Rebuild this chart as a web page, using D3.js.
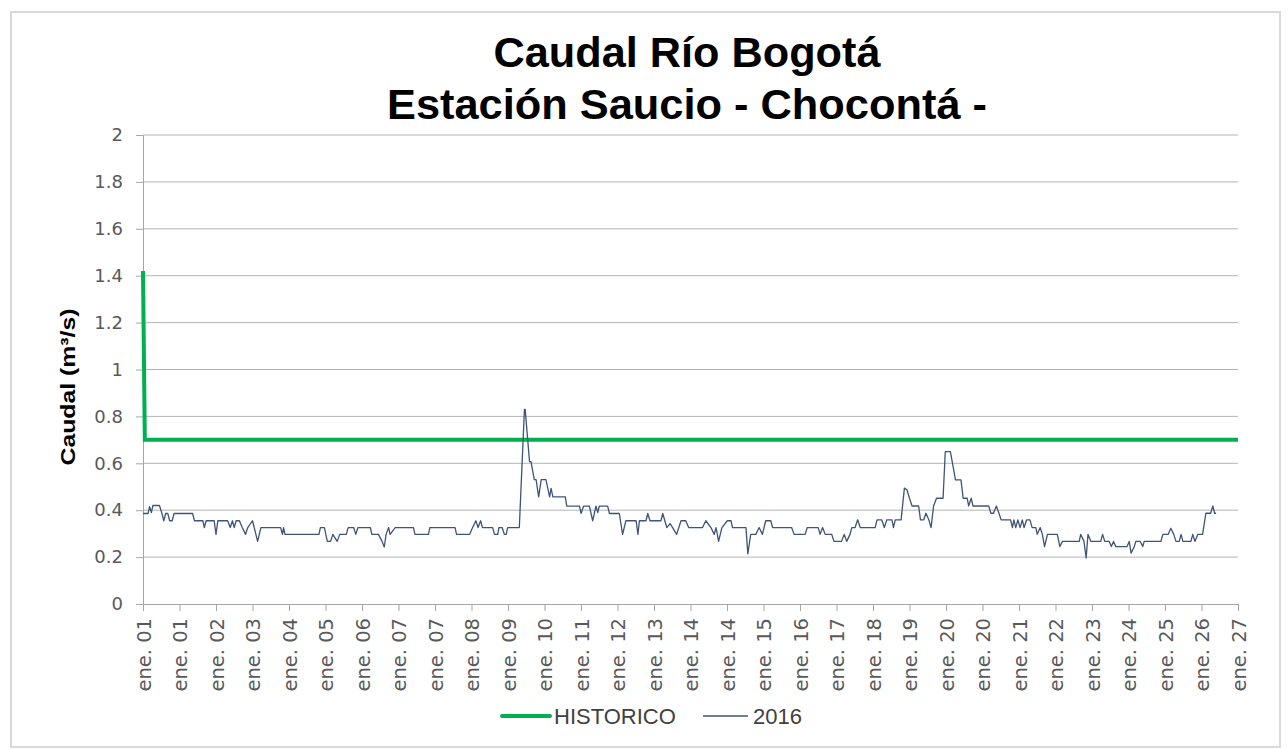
<!DOCTYPE html>
<html>
<head>
<meta charset="utf-8">
<script src="https://cdn.jsdelivr.net/npm/d3@7"></script>
<style>
  body { margin: 0; background: #fff; }
  text { fill: #595959; }
</style>
</head>
<body>
<div id="chart"></div>
<script>
"use strict";

// category labels under each x tick (Excel category axis)
var tickLabels = ["ene. 01", "ene. 01", "ene. 02", "ene. 03", "ene. 04", "ene. 05", "ene. 06",
    "ene. 07", "ene. 07", "ene. 08", "ene. 09", "ene. 10", "ene. 11", "ene. 12", "ene. 13",
    "ene. 14", "ene. 14", "ene. 15", "ene. 16", "ene. 17", "ene. 18", "ene. 19", "ene. 20",
    "ene. 20", "ene. 21", "ene. 22", "ene. 23", "ene. 24", "ene. 25", "ene. 26", "ene. 27"];

var yTicks = [0, 0.2, 0.4, 0.6, 0.8, 1, 1.2, 1.4, 1.6, 1.8, 2];

// [tick position, caudal m3/s]
var historico = [[0, 1.42], [0.05, 0.70], [30, 0.70]];

var serie2016 = [
    [0, 0.386], [0.14, 0.386], [0.18, 0.415], [0.23, 0.39], [0.27, 0.42], [0.45, 0.42],
    [0.52, 0.386], [0.57, 0.355], [0.62, 0.386], [0.68, 0.386], [0.73, 0.355], [0.80, 0.355],
    [0.85, 0.386], [1.36, 0.386], [1.41, 0.355], [1.64, 0.355], [1.68, 0.326], [1.73, 0.355],
    [1.95, 0.355], [2.00, 0.297], [2.05, 0.355], [2.32, 0.355], [2.39, 0.326], [2.45, 0.355],
    [2.50, 0.326], [2.55, 0.355], [2.64, 0.355], [2.72, 0.326], [2.81, 0.297], [2.87, 0.326],
    [3.00, 0.355], [3.14, 0.267], [3.23, 0.326], [3.77, 0.326], [3.82, 0.297], [3.85, 0.326],
    [3.89, 0.297], [4.82, 0.297], [4.86, 0.326], [4.97, 0.326], [5.05, 0.267], [5.14, 0.267],
    [5.20, 0.297], [5.32, 0.267], [5.39, 0.297], [5.57, 0.297], [5.62, 0.326], [5.77, 0.326],
    [5.83, 0.297], [5.89, 0.326], [6.23, 0.326], [6.27, 0.297], [6.45, 0.297], [6.55, 0.267],
    [6.61, 0.243], [6.66, 0.297], [6.73, 0.326], [6.77, 0.297], [6.91, 0.326], [7.41, 0.326],
    [7.45, 0.297], [7.82, 0.297], [7.86, 0.326], [8.55, 0.326], [8.59, 0.297], [8.95, 0.297],
    [9.03, 0.326], [9.12, 0.355], [9.18, 0.326], [9.25, 0.355], [9.30, 0.326], [9.58, 0.326],
    [9.63, 0.297], [9.72, 0.297], [9.75, 0.326], [9.84, 0.326], [9.90, 0.297], [9.95, 0.297],
    [9.99, 0.326], [10.31, 0.326], [10.45, 0.83], [10.47, 0.83], [10.54, 0.70], [10.59, 0.607],
    [10.63, 0.607], [10.72, 0.53], [10.77, 0.53], [10.84, 0.457], [10.91, 0.53], [11.04, 0.53],
    [11.09, 0.493], [11.14, 0.457], [11.18, 0.493], [11.23, 0.457], [11.57, 0.457], [11.61, 0.417],
    [11.96, 0.417], [12.00, 0.386], [12.07, 0.417], [12.23, 0.417], [12.32, 0.355], [12.41, 0.417],
    [12.46, 0.39], [12.50, 0.417], [12.73, 0.417], [12.78, 0.386], [13.05, 0.386], [13.14, 0.297],
    [13.23, 0.355], [13.51, 0.355], [13.56, 0.297], [13.60, 0.355], [13.78, 0.355], [13.83, 0.386],
    [13.89, 0.355], [14.19, 0.355], [14.24, 0.386], [14.35, 0.326], [14.44, 0.343], [14.51, 0.326],
    [14.62, 0.297], [14.74, 0.355], [14.87, 0.355], [14.95, 0.326], [15.33, 0.326], [15.42, 0.355],
    [15.56, 0.326], [15.65, 0.297], [15.70, 0.326], [15.77, 0.267], [15.86, 0.326], [16.01, 0.355],
    [16.11, 0.355], [16.15, 0.326], [16.52, 0.326], [16.57, 0.214], [16.65, 0.297], [16.79, 0.297],
    [16.88, 0.326], [16.97, 0.297], [17.06, 0.355], [17.20, 0.355], [17.25, 0.326], [17.77, 0.326],
    [17.84, 0.297], [18.14, 0.297], [18.20, 0.326], [18.50, 0.326], [18.55, 0.297], [18.62, 0.326],
    [18.69, 0.297], [18.87, 0.297], [18.93, 0.267], [19.14, 0.267], [19.21, 0.297], [19.28, 0.267],
    [19.37, 0.297], [19.42, 0.326], [19.51, 0.326], [19.58, 0.359], [19.65, 0.326], [20.06, 0.326],
    [20.11, 0.359], [20.24, 0.359], [20.31, 0.326], [20.38, 0.359], [20.52, 0.359], [20.56, 0.326],
    [20.61, 0.359], [20.77, 0.359], [20.86, 0.494], [20.93, 0.487], [21.00, 0.451], [21.07, 0.418],
    [21.25, 0.418], [21.30, 0.359], [21.39, 0.359], [21.45, 0.387], [21.53, 0.359], [21.59, 0.326],
    [21.66, 0.418], [21.74, 0.451], [21.92, 0.451], [21.98, 0.65], [22.12, 0.65], [22.26, 0.529],
    [22.41, 0.529], [22.47, 0.451], [22.58, 0.451], [22.62, 0.418], [22.69, 0.451], [22.74, 0.418],
    [23.17, 0.418], [23.23, 0.387], [23.30, 0.387], [23.38, 0.418], [23.45, 0.387], [23.51, 0.359],
    [23.77, 0.359], [23.82, 0.326], [23.86, 0.359], [23.91, 0.326], [23.97, 0.359], [24.03, 0.326],
    [24.09, 0.359], [24.14, 0.326], [24.21, 0.359], [24.30, 0.359], [24.36, 0.326], [24.46, 0.326],
    [24.50, 0.297], [24.58, 0.326], [24.64, 0.297], [24.70, 0.245], [24.78, 0.297], [25.05, 0.297],
    [25.12, 0.245], [25.19, 0.267], [25.65, 0.267], [25.69, 0.297], [25.78, 0.267], [25.84, 0.196],
    [25.89, 0.297], [25.97, 0.267], [26.24, 0.267], [26.29, 0.297], [26.35, 0.267], [26.47, 0.267],
    [26.53, 0.245], [26.59, 0.267], [26.65, 0.245], [26.96, 0.245], [27.02, 0.267], [27.07, 0.217],
    [27.16, 0.245], [27.20, 0.267], [27.32, 0.267], [27.39, 0.245], [27.43, 0.267], [27.89, 0.267],
    [27.94, 0.297], [28.09, 0.297], [28.16, 0.323], [28.24, 0.297], [28.30, 0.267], [28.39, 0.267],
    [28.44, 0.297], [28.49, 0.267], [28.71, 0.267], [28.76, 0.297], [28.82, 0.267], [28.90, 0.297],
    [29.03, 0.297], [29.12, 0.387], [29.25, 0.387], [29.31, 0.418], [29.36, 0.387], [29.40, 0.387]
];

var seriesNames = ["HISTORICO", "2016"];
var seriesColors = ["#00B050", "#3E5578"];

function renderMyChart() {
    var svg = d3.select("#chart").append("svg")
        .attr("width", 1288)
        .attr("height", 750),
        margin = { top: 135, right: 50, bottom: 146, left: 143 },
        width = +svg.attr("width") - margin.left - margin.right,
        height = +svg.attr("height") - margin.top - margin.bottom;

    // chart frame
    svg.append("rect")
        .attr("x", 11).attr("y", 12)
        .attr("width", 1269).attr("height", 735)
        .attr("fill", "#fff")
        .attr("stroke", "#D9D9D9")
        .attr("stroke-width", 2);

    var x = d3.scaleLinear().domain([0, tickLabels.length - 1]).range([0, width]),
        y = d3.scaleLinear().domain([0, 2]).range([height, 0]);

    var g = svg.append("g")
        .attr("transform", "translate(" + margin.left + "," + margin.top + ")");

    // title
    var title = svg.append("text")
        .attr("text-anchor", "middle")
        .style("font-family", "'Liberation Sans', Arial, sans-serif")
        .style("font-weight", "bold")
        .style("font-size", "43px")
        .style("fill", "#000");
    title.append("tspan").attr("x", 687).attr("y", 67)
        .attr("textLength", 387).attr("lengthAdjust", "spacingAndGlyphs")
        .text("Caudal Río Bogotá");
    title.append("tspan").attr("x", 687).attr("y", 119)
        .attr("textLength", 600).attr("lengthAdjust", "spacingAndGlyphs")
        .text("Estación Saucio - Chocontá -");

    // gridlines
    g.append("g")
        .selectAll("line")
        .data(yTicks.filter(function (d) { return d > 0; }))
        .enter().append("line")
        .attr("x1", 0).attr("x2", width)
        .attr("y1", function (d) { return y(d); })
        .attr("y2", function (d) { return y(d); })
        .attr("stroke", "#B4B4B4")
        .attr("stroke-width", 1);

    // y axis
    var yAxis = g.append("g")
        .call(d3.axisLeft(y).tickValues(yTicks).tickSize(7).tickPadding(13)
            .tickFormat(function (d) { return String(d); }));
    yAxis.select(".domain").attr("stroke", "#A6A6A6");
    yAxis.selectAll(".tick line").attr("stroke", "#A6A6A6");
    yAxis.selectAll("text")
        .style("font-family", "'DejaVu Sans', sans-serif")
        .style("font-size", "18px")
        .style("fill", "#595959");

    // x axis
    var xAxis = g.append("g")
        .attr("transform", "translate(0," + height + ")")
        .call(d3.axisBottom(x).tickValues(d3.range(tickLabels.length)).tickSize(7)
            .tickFormat(function (i) { return tickLabels[i]; }));
    xAxis.select(".domain").attr("stroke", "#A6A6A6");
    xAxis.selectAll(".tick line").attr("stroke", "#A6A6A6");
    xAxis.selectAll("text")
        .attr("transform", "rotate(-90)")
        .attr("x", -14)
        .attr("y", 0)
        .attr("dy", "0.36em")
        .attr("text-anchor", "end")
        .style("font-family", "'DejaVu Sans', sans-serif")
        .style("font-size", "19.5px")
        .style("fill", "#595959");

    // y axis title
    svg.append("text")
        .attr("transform", "translate(75,387) rotate(-90)")
        .attr("text-anchor", "middle")
        .attr("textLength", 157).attr("lengthAdjust", "spacingAndGlyphs")
        .style("font-family", "'Liberation Sans', Arial, sans-serif")
        .style("font-weight", "bold")
        .style("font-size", "21px")
        .style("fill", "#000")
        .text("Caudal (m³/s)");

    var line = d3.line()
        .x(function (d) { return x(d[0]); })
        .y(function (d) { return y(d[1]); });

    g.append("path")
        .datum(historico)
        .attr("fill", "none")
        .attr("stroke", seriesColors[0])
        .attr("stroke-width", 4)
        .attr("d", line);

    g.append("path")
        .datum(serie2016)
        .attr("fill", "none")
        .attr("stroke", seriesColors[1])
        .attr("stroke-width", 1.3)
        .attr("stroke-linejoin", "round")
        .attr("d", line);

    // legend
    var legend = svg.append("g").attr("transform", "translate(0,716)");
    var legendX = [502, 703], legendTextX = [554, 753], legendW = [48, 45], legendStroke = [4, 1.5];
    seriesNames.forEach(function (name, i) {
        legend.append("line")
            .attr("x1", legendX[i]).attr("x2", legendX[i] + legendW[i])
            .attr("y1", 0).attr("y2", 0)
            .attr("stroke", seriesColors[i])
            .attr("stroke-width", legendStroke[i])
            .attr("stroke-linecap", i === 0 ? "round" : "butt");
        legend.append("text")
            .attr("x", legendTextX[i])
            .attr("y", 8)
            .style("font-family", "'Liberation Sans', Arial, sans-serif")
            .style("font-size", "22px")
            .style("fill", "#404040")
            .text(name);
    });
}

renderMyChart();
</script>
</body>
</html>
